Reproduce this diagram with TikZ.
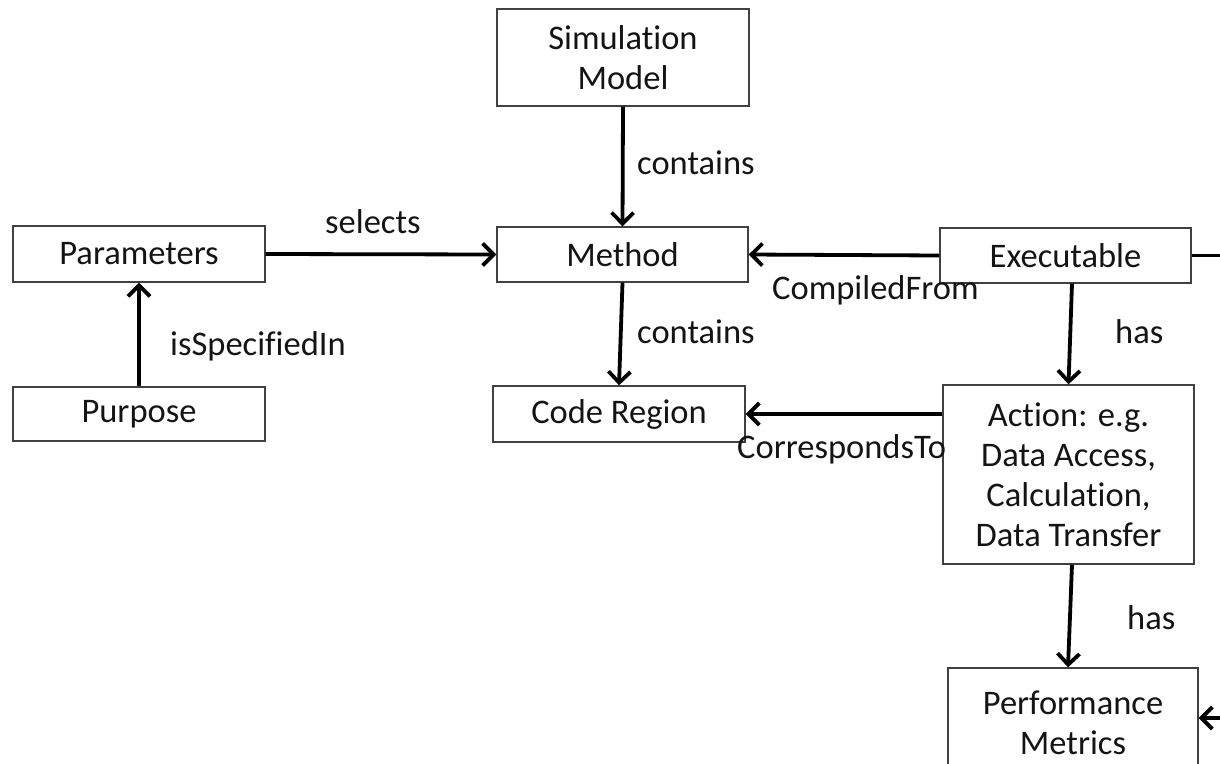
\documentclass[tikz,border=0pt]{standalone}
\usepackage{fontspec}
\setmainfont{Carlito}[Ligatures={NoCommon}]
\usetikzlibrary{arrows.meta}
\begin{document}
\begin{tikzpicture}[x=1pt,y=-1pt,
  every node/.style={font=\fontsize{34.5}{40}\selectfont, text=black!92},
  box/.style={draw=black!75, line width=1.4pt, rectangle, align=center, inner sep=0pt},
  conn/.style={line width=3.8pt, draw=black, -{Straight Barb[length=11pt,width=22pt]}},
  plain/.style={line width=3.8pt, draw=black},
  lbl/.style={anchor=base west, inner sep=0pt}]
\useasboundingbox (0,0) rectangle (1220,763);
\clip (0,0) rectangle (1220,763);

% boxes
\node[box, minimum width=252pt, minimum height=97pt] (sim) at (623,57.5) {Simulation\\Model};
\node[box, minimum width=251pt, minimum height=55pt] (method) at (622.5,254.5) {Method};
\node[box, minimum width=252pt, minimum height=56pt] (params) at (139,254) {Parameters};
\node[box, minimum width=252pt, minimum height=54pt] (purpose) at (139,414) {Purpose};
\node[box, minimum width=252pt, minimum height=56pt] (code) at (619,414) {Code Region};
\node[box, minimum width=251pt, minimum height=55pt] (exec) at (1065.5,255.5) {Executable};
\node[box, minimum width=251pt, minimum height=179pt] (action) at (1068.5,474.5) {Action: e.g.\\Data Access,\\Calculation,\\Data Transfer};
\node[box, minimum width=250pt, minimum height=110pt] (perf) at (1073,723) {Performance\\Metrics};

% free ends at the right border
\coordinate (exout) at (1230,255.5);
\coordinate (pin) at (1230,718);

% connectors
\draw[conn] (sim.south) -- (method.north);
\draw[conn] (method.south) -- (code.north);
\draw[conn] (params.east) -- (method.west);
\draw[conn] (purpose.north) -- (params.south);
\draw[conn] (exec.west) -- (method.east);
\draw[conn] ([xshift=6.5pt]exec.south) -- (action.north);
\draw[conn] (action.west |- code) -- (code.east);
\draw[conn] ([xshift=3.5pt]action.south) -- ([xshift=-5pt]perf.north);
\draw[plain] (exec.east) -- (exout);
\draw[conn] (pin) -- (perf.east |- pin);

% connector labels
\node[lbl] (l1) at (637,174) {contains};
\node[lbl] (l2) at (637,343) {contains};
\node[lbl] (l3) at (325,233) {selects};
\node[lbl] (l4) at (170,355) {isSpecifiedIn};
\node[lbl] (l5) at (772,299) {CompiledFrom};
\node[lbl] (l6) at (1115,343) {has};
\node[lbl] (l7) at (1127,629) {has};
\node[lbl] (l8) at (737,458) {CorrespondsTo};
\end{tikzpicture}
\end{document}
